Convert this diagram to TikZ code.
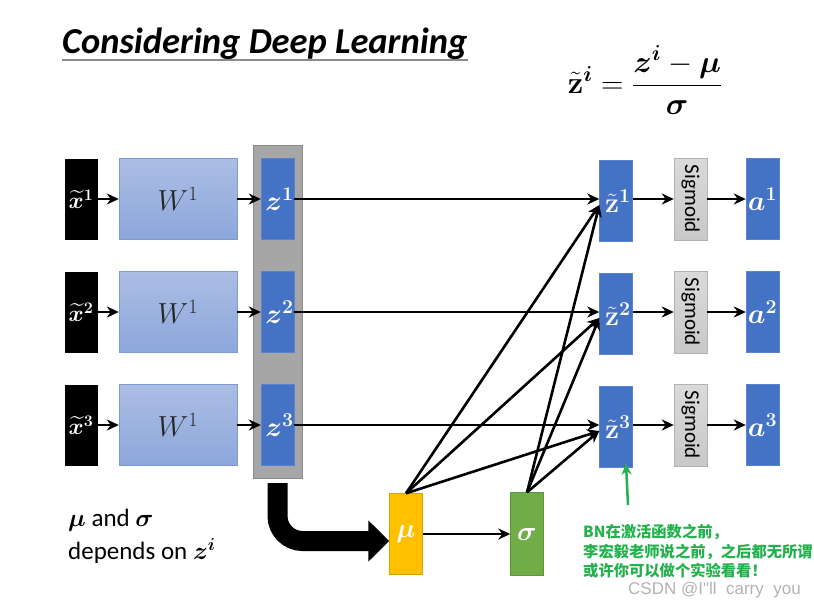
\RequirePackage{fix-cm}
\documentclass[tikz,border=0pt]{standalone}
\usepackage{amsmath}
\usepackage{bm}
\usepackage[no-math]{fontspec}
\setmainfont{Carlito}
\newfontfamily\cjk{Noto Sans CJK SC}
\newfontfamily\wmfont{Liberation Sans}
\usepackage{xcolor}
\usetikzlibrary{arrows.meta,positioning,calc}

\definecolor{zblue}{HTML}{4472C4}
\definecolor{zline}{HTML}{5B82CC}
\definecolor{wtop}{HTML}{ABBDE4}
\definecolor{wbot}{HTML}{8DA7DA}
\definecolor{wline}{HTML}{7F9AD2}
\definecolor{colgray}{HTML}{A6A6A6}
\definecolor{sigtop}{HTML}{DADADA}
\definecolor{sigbot}{HTML}{C8C8C8}
\definecolor{muorange}{HTML}{FFC000}
\definecolor{sdgreen}{HTML}{70AD47}
\definecolor{notegreen}{HTML}{22B14C}

\begin{document}
\begin{tikzpicture}[x=1pt,y=-1pt,
    box/.style={minimum width=33pt, minimum height=81pt, inner sep=0pt},
    xbox/.style={box, fill=black, text=white, font=\fontsize{23}{26}\selectfont},
    wbox/.style={box, minimum width=118pt, top color=wtop, bottom color=wbot,
                 draw=wline, text=black!85, font=\fontsize{29}{32}\selectfont},
    zbox/.style={box, fill=zblue, draw=zline, text=white, font=\fontsize{28}{30}\selectfont},
    sbox/.style={box, minimum width=82pt, minimum height=33pt, rotate=-90,
                 top color=sigtop, bottom color=sigbot, draw=black!30,
                 font=\fontsize{21}{24}\selectfont},
    arr/.style={line width=2.6pt, -{Stealth[length=12pt,width=11pt]}},
    bigarr/.style={line width=20pt, rounded corners=25pt, -{Triangle[length=21pt,width=40pt]}},
    greenarr/.style={notegreen, line width=2.5pt, -{Stealth[length=11pt,width=10pt]}}]

    \useasboundingbox (0,0) rectangle (814,606);

    % Title and formula
    \node[inner sep=0pt, anchor=base west, font=\fontsize{36.5}{40}\selectfont\bfseries\itshape]
        (title) at (62,53) {Considering Deep Learning};
    \draw[black!45, line width=1.5pt] ($(title.base west)+(0,7)$) -- ($(title.base east)+(0,7)$);
    \node[font=\fontsize{31}{36}\selectfont] (formula) at (645,80)
        {$\tilde{\mathbf{z}}^{\bm{i}} = \dfrac{\bm{z}^{\bm{i}}-\bm{\mu}}{\bm{\sigma}}$};

    % Gray column behind the z boxes
    \node[box, minimum width=49pt, minimum height=333pt, fill=colgray, draw=black!45]
        (zcol) at (277.5,311.5) {};

    % The three rows
    \foreach \i/\yy in {1/199,2/312,3/425} {
        \node[xbox] (x\i) at (81,\yy) {$\widetilde{\bm{x}}^{\mathbf{\i}}$};
        \node[wbox] (w\i) at (178,\yy) {$W^1$};
        \node[zbox] (z\i) at (277.5,\yy) {\hspace*{4pt}$\bm{z}^{\mathbf{\i}}$};
        \node[zbox] (zt\i) at (616,\yy+2) {\hspace*{4pt}$\tilde{\mathbf{z}}^{\mathbf{\i}}$};
        \node[sbox] (s\i) at (690.5,\yy) {Sigmoid};
        \node[zbox] (a\i) at (762.5,\yy) {$\bm{a}^{\mathbf{\i}}$};
    }

    % mu and sigma
    \node[box, fill=muorange, draw=muorange!85!black, text=white, font=\fontsize{27}{30}\selectfont]
        (mu) at (406,534) {$\bm{\mu}$};
    \node[box, minimum height=83pt, fill=sdgreen, draw=sdgreen!85!black, text=white,
          font=\fontsize{27}{30}\selectfont] (sig) at (527,534) {$\bm{\sigma}$};

    % Connectors along each row
    \foreach \i in {1,2,3} {
        \draw[arr] (x\i.east) -- (w\i.west);
        \draw[arr] (w\i.east) -- (z\i.west);
        \draw[arr] (z\i.east) -- (zt\i.west |- z\i.east);
        \draw[arr] (zt\i.east |- s\i) -- (s\i);
        \draw[arr] (s\i) -- (a\i.west);
        \draw[arr] (mu.north) -- ($(zt\i.west)+(0,4)$);
        \draw[arr] (sig.north) -- ($(zt\i.west)+(0,4)$);
    }
    \draw[arr] (mu.east) -- (sig.west);

    % Big bent arrow into mu
    \draw[bigarr] ($(zcol.south)+(0,5)$) |- ($(mu.west)+(0,7)$);

    % Left note
    \node[anchor=north west, align=left, inner sep=0pt, font=\fontsize{25}{33}\selectfont]
        (dep) at (68,509) {$\bm{\mu}$ and $\bm{\sigma}$\\depends on $\bm{z}^{\bm{i}}$};

    % Green note
    \node[anchor=north west, align=left, inner sep=0pt, text=notegreen,
          font=\cjk\bfseries\fontsize{15.3}{19.5}\selectfont]
        (note) at (583,524) {BN在激活函数之前，\\李宏毅老师说之前，之后都无所谓\\或许你可以做个实验看看！};
    \coordinate (gstart) at (628,505);
    \draw[greenarr] (gstart) -- ($(zt3.south)+(10,-4)$);

    % Watermark
    \node[anchor=base west, inner sep=0pt, text=black!30, font=\wmfont\fontsize{17}{19}\selectfont]
        (wm) at (628,594) {CSDN @I"ll\ \ carry\ \ you};
\end{tikzpicture}
\end{document}
